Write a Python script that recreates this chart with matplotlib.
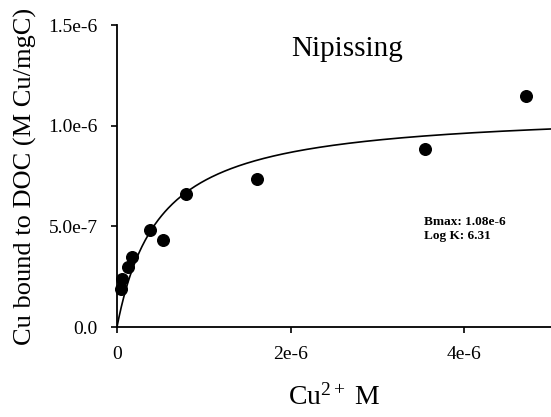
import numpy as np
import matplotlib.pyplot as plt

# Cu2+ titration, Nipissing
cu_free = [0.043e-6, 0.058e-6, 0.127e-6, 0.173e-6, 0.38e-6, 0.53e-6,
           0.795e-6, 1.614e-6, 3.554e-6, 4.715e-6]
cu_bound = [0.19e-6, 0.237e-6, 0.30e-6, 0.347e-6, 0.483e-6, 0.433e-6,
            0.66e-6, 0.733e-6, 0.884e-6, 1.146e-6]

# fitted one-site binding parameters (from the annotation)
bmax = 1.08e-6
logk = 6.31

xticks = [0, 2e-6, 4e-6]
xticklabels = ['0', '2e-6', '4e-6']
yticks = [0, 5e-7, 1e-6, 1.5e-6]
yticklabels = ['0.0', '5.0e-7', '1.0e-6', '1.5e-6']

plt.rcParams['font.family'] = ['Liberation Serif', 'DejaVu Serif']
plt.rcParams['mathtext.fontset'] = 'custom'
plt.rcParams['mathtext.rm'] = 'Liberation Serif'
plt.rcParams['mathtext.it'] = 'Liberation Serif:italic'

fig = plt.figure(figsize=(5.51, 4.17), dpi=100)
ax = fig.add_axes([0.2123, 0.2158, 0.7877, 0.7242])

# fit curve
K = 10 ** logk
xf = np.linspace(0, 5e-6, 400)
ax.plot(xf, bmax * K * xf / (1 + K * xf), color='black', lw=1.2)

ax.scatter(cu_free, cu_bound, s=70, color='black', zorder=3, clip_on=False)

ax.set_xlim(0, 5e-6)
ax.set_ylim(0, 1.5e-6)
ax.set_xticks(xticks)
ax.set_xticklabels(xticklabels, fontsize=14)
ax.set_yticks(yticks)
ax.set_yticklabels(yticklabels, fontsize=14)
ax.tick_params(direction='out', length=4, width=1.2)
ax.tick_params(axis='y', pad=10)
ax.tick_params(axis='x', pad=10)

for s in ['top', 'right']:
    ax.spines[s].set_visible(False)
for s in ['left', 'bottom']:
    ax.spines[s].set_linewidth(1.3)

ax.set_ylabel('Cu bound to DOC (M Cu/mgC)', fontsize=19, labelpad=8)
ax.set_xlabel(r'Cu$^{\rm 2+}$ M', fontsize=20, labelpad=15)

ax.text(0.53, 0.965, 'Nipissing', transform=ax.transAxes, fontsize=21,
        ha='center', va='top')
ax.text(3.54e-6, 5.5e-7, 'Bmax: 1.08e-6\nLog K: 6.31', fontsize=9.5,
        fontweight='bold', va='top', linespacing=1.2)

fig.savefig('out.png', dpi=100)
